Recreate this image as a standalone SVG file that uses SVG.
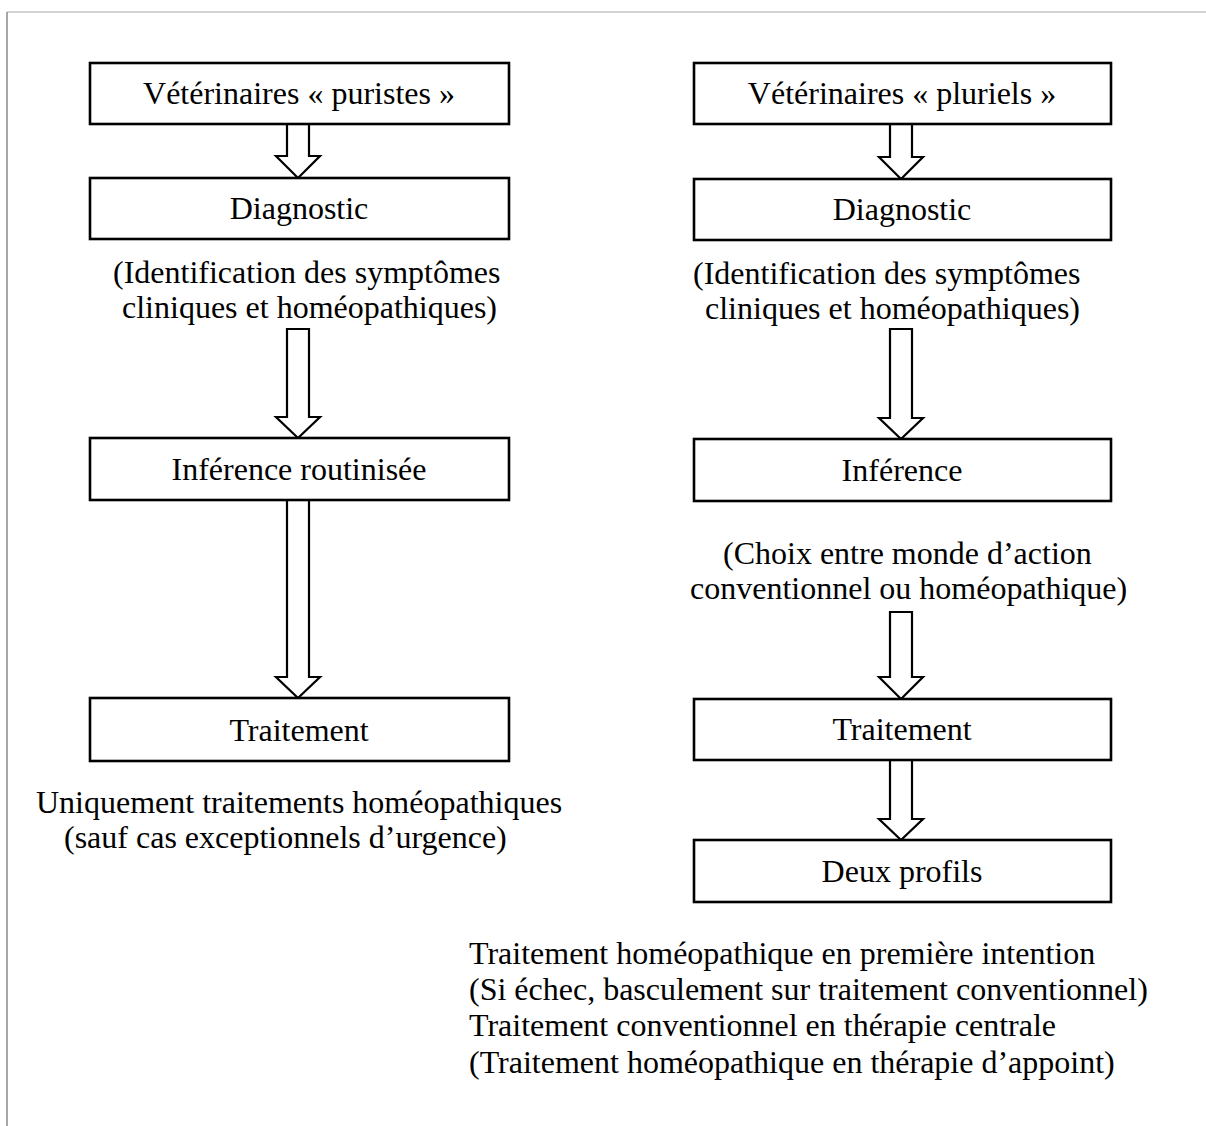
<svg xmlns="http://www.w3.org/2000/svg" width="1206" height="1126" viewBox="0 0 1206 1126">
  <style>
    .box { fill: #ffffff; stroke: #000000; stroke-width: 2.6; }
    .arrow { fill: #ffffff; stroke: #000000; stroke-width: 2.2; stroke-linejoin: miter; }
    text { font-family: "Liberation Serif", "Times New Roman", serif; font-size: 32px; fill: #000000; }
    .c { text-anchor: middle; }
  </style>

  <rect x="0" y="0" width="1206" height="1126" fill="#ffffff"/>
  <!-- page frame -->
  <line x1="7" y1="12" x2="1206" y2="12" stroke="#c4c4c4" stroke-width="1.5"/>
  <line x1="7" y1="12" x2="7" y2="1126" stroke="#8a8a8a" stroke-width="1.5"/>

  <!-- block arrows between the steps -->
  <g id="connectors">
    <polygon class="arrow" points="287,124 309,124 309,156 320,156 298,178 276,156 287,156"/>
    <polygon class="arrow" points="287,329 309,329 309,417 320,417 298,438 276,417 287,417"/>
    <polygon class="arrow" points="287,500 309,500 309,677 320,677 298,698 276,677 287,677"/>

    <polygon class="arrow" points="890,124 912,124 912,157 923,157 901,179 879,157 890,157"/>
    <polygon class="arrow" points="890,329 912,329 912,418 923,418 901,439 879,418 890,418"/>
    <polygon class="arrow" points="890,612 912,612 912,677 923,677 901,699 879,677 890,677"/>
    <polygon class="arrow" points="890,760 912,760 912,819 923,819 901,840 879,819 890,819"/>
  </g>

  <!-- left column: "puristes" -->
  <g id="puristes">
    <rect class="box" x="90" y="63" width="419" height="61"/>
    <text class="c" x="299" y="104">Vétérinaires « puristes »</text>
  </g>
  <g id="diagnostic-puristes">
    <rect class="box" x="90" y="178" width="419" height="61"/>
    <text class="c" x="299" y="219">Diagnostic</text>
  </g>
  <g id="note-diagnostic-puristes">
    <text x="113" y="283">(Identification des symptômes</text>
    <text x="122" y="318">cliniques et homéopathiques)</text>
  </g>
  <g id="inference-puristes">
    <rect class="box" x="90" y="438" width="419" height="62"/>
    <text class="c" x="299" y="480">Inférence routinisée</text>
  </g>
  <g id="traitement-puristes">
    <rect class="box" x="90" y="698" width="419" height="63"/>
    <text class="c" x="299" y="741">Traitement</text>
  </g>
  <g id="note-traitement-puristes">
    <text x="36" y="813">Uniquement traitements homéopathiques</text>
    <text x="64" y="848">(sauf cas exceptionnels d’urgence)</text>
  </g>

  <!-- right column: "pluriels" -->
  <g id="pluriels">
    <rect class="box" x="694" y="63" width="417" height="61"/>
    <text class="c" x="902" y="104">Vétérinaires « pluriels »</text>
  </g>
  <g id="diagnostic-pluriels">
    <rect class="box" x="694" y="179" width="417" height="61"/>
    <text class="c" x="902" y="220">Diagnostic</text>
  </g>
  <g id="note-diagnostic-pluriels">
    <text x="693" y="284">(Identification des symptômes</text>
    <text x="705" y="319">cliniques et homéopathiques)</text>
  </g>
  <g id="inference-pluriels">
    <rect class="box" x="694" y="439" width="417" height="62"/>
    <text class="c" x="902" y="481">Inférence</text>
  </g>
  <g id="note-inference-pluriels">
    <text x="723" y="564">(Choix entre monde d’action</text>
    <text x="690" y="599">conventionnel ou homéopathique)</text>
  </g>
  <g id="traitement-pluriels">
    <rect class="box" x="694" y="699" width="417" height="61"/>
    <text class="c" x="902" y="740">Traitement</text>
  </g>
  <g id="deux-profils">
    <rect class="box" x="694" y="840" width="417" height="62"/>
    <text class="c" x="902" y="882">Deux profils</text>
  </g>
  <g id="note-deux-profils">
    <text x="469" y="964">Traitement homéopathique en première intention</text>
    <text x="469" y="1000">(Si échec, basculement sur traitement conventionnel)</text>
    <text x="469" y="1036">Traitement conventionnel en thérapie centrale</text>
    <text x="469" y="1073">(Traitement homéopathique en thérapie d’appoint)</text>
  </g>
</svg>
